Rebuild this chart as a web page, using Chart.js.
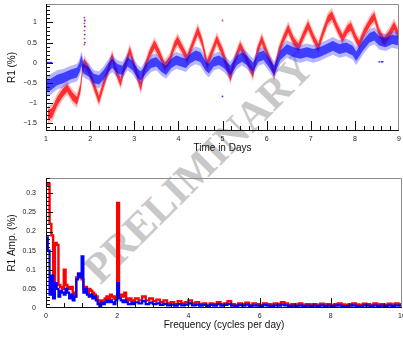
<!DOCTYPE html>
<html><head><meta charset="utf-8">
<script src="https://cdn.jsdelivr.net/npm/chart.js@4.4.1/dist/chart.umd.min.js"></script>
<style>
html,body{margin:0;padding:0;background:#fff;width:403px;height:343px;overflow:hidden}
#wm{position:absolute;left:198px;top:168px;transform:translate(-50%,-50%) rotate(-45deg);font:bold 42px "Liberation Serif";color:#c8c8c8;white-space:nowrap;z-index:0;line-height:1}
.box{position:absolute;left:0;z-index:1}
</style></head><body>
<div id="wm">PRELIMINARY</div>
<div class="box" style="top:0"><canvas id="c1" width="403" height="160"></canvas></div>
<div class="box" style="top:170px"><canvas id="c2" width="403" height="173"></canvas></div>
<script>
// ---------- top panel: R1 (%) vs time ----------
const redDays = [1.04,1.14,1.25,1.37,1.48,1.6,1.7,1.78,1.83,1.87,1.97,2.08,2.2,2.3,2.42,2.5,2.57,2.69,2.77,2.9,3.0,3.15,3.23,3.35,3.46,3.57,3.69,3.8,3.91,3.98,4.09,4.2,4.31,4.44,4.54,4.65,4.76,4.87,5.0,5.18,5.29,5.4,5.51,5.62,5.69,5.78,5.89,6.0,6.12,6.17,6.27,6.38,6.49,6.61,6.72,6.83,6.94,7.06,7.17,7.28,7.39,7.48,7.6,7.72,7.83,7.91,8.03,8.1,8.21,8.36,8.44,8.55,8.66,8.78,8.89,9.0];
const redR1 = [-1.3,-1.25,-0.97,-0.76,-0.63,-0.84,-0.95,-0.64,-0.15,0.0,-0.19,-0.55,-0.92,-0.55,-0.15,0.16,-0.15,-0.5,-0.15,0.3,-0.07,-0.6,-0.15,0.22,0.46,0.22,-0.1,0.06,0.42,0.56,0.34,0.1,0.42,0.8,0.5,-0.05,0.26,0.58,0.26,-0.35,0.1,0.42,0.18,-0.11,-0.28,0.26,0.58,0.26,-0.07,-0.27,0.26,0.58,0.85,0.54,0.38,0.67,0.93,0.62,0.38,0.75,1.08,1.18,0.87,0.6,0.83,0.9,0.58,0.46,0.75,1.04,1.15,0.75,0.54,0.71,0.92,0.67];
const redSpread = [0.22,0.22,0.2,0.18,0.17,0.18,0.18,0.18,0.18,0.18,0.17,0.17,0.18,0.17,0.17,0.17,0.17,0.17,0.17,0.18,0.17,0.19,0.17,0.17,0.18,0.17,0.17,0.17,0.17,0.18,0.17,0.17,0.17,0.19,0.17,0.2,0.17,0.18,0.18,0.2,0.17,0.17,0.17,0.17,0.18,0.17,0.18,0.17,0.17,0.18,0.17,0.17,0.18,0.17,0.17,0.17,0.18,0.17,0.17,0.17,0.18,0.18,0.17,0.17,0.17,0.18,0.17,0.17,0.17,0.18,0.18,0.17,0.17,0.17,0.18,0.17];

const blueDays = [1.02,1.1,1.25,1.4,1.55,1.7,1.76,1.8,1.85,1.97,2.08,2.2,2.3,2.42,2.5,2.62,2.73,2.85,2.96,3.08,3.15,3.27,3.38,3.5,3.61,3.72,3.84,3.95,4.06,4.17,4.27,4.39,4.5,4.61,4.69,4.8,4.92,5.03,5.18,5.33,5.44,5.55,5.69,5.82,5.93,6.04,6.17,6.31,6.46,6.61,6.76,6.91,7.06,7.2,7.35,7.5,7.65,7.8,7.95,8.03,8.18,8.33,8.44,8.55,8.7,8.85,9.0];
const blueR1 = [-0.58,-0.55,-0.43,-0.38,-0.3,-0.25,-0.12,0.05,-0.15,-0.23,-0.39,-0.43,-0.31,-0.11,-0.02,-0.15,-0.19,0.02,-0.07,-0.27,-0.33,-0.15,-0.02,0.02,-0.11,-0.19,-0.02,0.06,0.02,-0.02,0.1,0.18,0.14,-0.07,-0.15,0.02,0.06,-0.02,-0.19,0.06,0.14,0.06,-0.11,0.14,0.18,0.02,-0.19,0.18,0.34,0.26,0.22,0.26,0.22,0.26,0.34,0.42,0.34,0.38,0.3,0.16,0.42,0.62,0.67,0.54,0.5,0.58,0.54];
const blueSpread = [0.26,0.26,0.24,0.23,0.22,0.22,0.22,0.24,0.22,0.21,0.21,0.21,0.21,0.21,0.21,0.21,0.21,0.21,0.21,0.21,0.21,0.21,0.21,0.21,0.21,0.21,0.21,0.21,0.21,0.21,0.21,0.22,0.22,0.21,0.22,0.21,0.21,0.21,0.22,0.21,0.21,0.21,0.21,0.21,0.21,0.21,0.22,0.21,0.22,0.22,0.22,0.22,0.22,0.22,0.22,0.22,0.22,0.22,0.22,0.22,0.22,0.22,0.21,0.21,0.21,0.21,0.21];

// isolated dots (outliers)
const redOutDays = [1.87,1.87,1.87,1.87,1.87,5.0];
const redOutR1 = [1.12,0.98,0.8,0.6,0.45,1.05];
const blueOutDays = [1.01,1.04,1.07,1.1,1.13,1.88,1.88,1.88,1.88,5.0,8.55,8.6,8.63];
const blueOutR1 = [0,0,0,0,0,1.05,0.9,0.7,0.5,-0.84,0.02,0.02,0.02];

const timeTicks = [1,2,3,4,5,6,7,8,9];
const r1Ticks = [-1.5,-1,-0.5,0,0.5,1];
const r1TickLabels = ['\u22121.5','\u22121','\u22120.5','0','0.5','1'];

// ---------- bottom panel: amplitude spectrum ----------
// bins of 0.05 cycles/day from 0 to 2.5
const ampRedLow = [0.32,0.325,0.22,0.19,0.06,0.17,0.165,0.06,0.055,0.05,0.1,0.06,0.055,0.05,0.055,0.04,0.03,0.08,0.09,0.085,0.075,0.05,0.055,0.04,0.05,0.045,0.04,0.035,0.03,0.02,0.015,0.02,0.02,0.025,0.03,0.025,0.035,0.03,0.025,0.03,0.275,0.03,0.035,0.03,0.04,0.025,0.02,0.025,0.02,0.02];
const ampBlueLow = [0.185,0.15,0.035,0.085,0.025,0.065,0.05,0.03,0.045,0.04,0.035,0.05,0.04,0.025,0.035,0.02,0.03,0.075,0.09,0.08,0.135,0.04,0.05,0.035,0.03,0.035,0.025,0.03,0.02,0.01,0.005,0.015,0.01,0.015,0.02,0.015,0.02,0.015,0.01,0.02,0.065,0.025,0.02,0.015,0.02,0.015,0.01,0.01,0.015,0.01];
// bins of 0.1 cycles/day from 2.5 to 10
const ampRedHigh = [0.025,0.02,0.03,0.02,0.025,0.018,0.022,0.015,0.02,0.012,0.015,0.01,0.018,0.012,0.015,0.02,0.012,0.015,0.01,0.012,0.008,0.012,0.01,0.015,0.01,0.012,0.018,0.01,0.008,0.012,0.01,0.014,0.008,0.012,0.01,0.008,0.012,0.01,0.009,0.012,0.01,0.015,0.012,0.008,0.01,0.009,0.012,0.008,0.01,0.009,0.01,0.008,0.011,0.009,0.01,0.008,0.01,0.012,0.009,0.008,0.01,0.012,0.009,0.008,0.011,0.01,0.008,0.012,0.009,0.01,0.008,0.011,0.009,0.012,0.01];
const ampBlueHigh = [0.015,0.012,0.018,0.01,0.014,0.01,0.012,0.008,0.011,0.007,0.009,0.006,0.01,0.007,0.009,0.012,0.007,0.009,0.006,0.008,0.005,0.008,0.006,0.01,0.006,0.008,0.011,0.006,0.005,0.008,0.006,0.009,0.005,0.007,0.006,0.005,0.008,0.006,0.005,0.007,0.006,0.009,0.007,0.005,0.006,0.005,0.007,0.005,0.006,0.005,0.006,0.005,0.007,0.005,0.006,0.005,0.006,0.007,0.005,0.005,0.006,0.007,0.005,0.005,0.007,0.006,0.005,0.007,0.005,0.006,0.005,0.007,0.005,0.007,0.006];
const lowBin = 0.05, highBin = 0.1, lowEnd = 2.5;

const freqTicks = [0,2,4,6,8,10];
const ampTicks = [0,0.05,0.1,0.15,0.2,0.25,0.3];
const ampTickLabels = ['0','0.05','0.1','0.15','0.2','0.25','0.3'];

// ---------- helpers ----------
function band(xs, cs, ss, k, sign){ return xs.map((x,i)=>({x, y: cs[i] + sign*k*ss[i]})); }
function pts(xs, ys){ return xs.map((x,i)=>({x, y: ys[i]})); }
function hist(low, high){
  const d = [];
  low.forEach((v,i)=>d.push({x:i*lowBin, y:v}));
  high.forEach((v,i)=>d.push({x:lowEnd+i*highBin, y:v}));
  d.push({x:lowEnd+high.length*highBin, y:high[high.length-1]});
  return d;
}

const frameTicks = {
  id:'frameTicks',
  afterDraw(chart, args, o){
    const {ctx, chartArea:a, scales:{x,y}} = chart;
    ctx.save();
    ctx.lineWidth = 1;
    ctx.strokeStyle = '#8c8c8c';
    ctx.beginPath();
    ctx.moveTo(a.left, a.top+0.5); ctx.lineTo(a.right-0.5, a.top+0.5); ctx.lineTo(a.right-0.5, a.bottom);
    ctx.stroke();
    ctx.strokeStyle = '#111';
    ctx.beginPath();
    ctx.moveTo(a.left+0.5, a.top); ctx.lineTo(a.left+0.5, a.bottom-0.5); ctx.lineTo(a.right, a.bottom-0.5);
    ctx.stroke();
    ctx.beginPath();
    const nx = Math.round((o.xMax-o.xStart)/o.xMinor);
    for(let i=0;i<=nx;i++){
      const v = o.xStart + i*o.xMinor;
      const major = Math.abs(v/o.xMajor - Math.round(v/o.xMajor)) < 1e-6;
      const px = Math.round(x.getPixelForValue(v))+0.5;
      if(px < a.left || px > a.right) continue;
      ctx.moveTo(px, a.bottom); ctx.lineTo(px, a.bottom - (major? o.xMajLen : o.xMinLen));
    }
    const ny = Math.round((o.yMax-o.yStart)/o.yMinor);
    for(let i=0;i<=ny;i++){
      const v = o.yStart + i*o.yMinor;
      const major = Math.abs(v/o.yMajor - Math.round(v/o.yMajor)) < 1e-6;
      const py = Math.round(y.getPixelForValue(v))+0.5;
      if(py < a.top || py > a.bottom) continue;
      ctx.moveTo(a.left, py); ctx.lineTo(a.left + (major? o.yMajLen : o.yMinLen), py);
    }
    ctx.stroke();
    ctx.restore();
  }
};

const FONT = 'Liberation Sans';
function xScale(min, max, ticksArr, title, titlePad, h){
  return {
    type:'linear', min, max,
    afterBuildTicks: s => { s.ticks = ticksArr.map(v=>({value:v})); },
    ticks:{ font:{family:FONT,size:7}, color:'#222', padding:4, maxRotation:0, autoSkip:false },
    grid:{ display:false, drawTicks:false }, border:{ display:false },
    title:{ display:true, text:title, font:{family:FONT,size:10}, color:'#111', padding:{top:0,bottom:titlePad} },
    afterFit: s => { s.height = h; s.paddingLeft = 0; s.paddingRight = 0; }
  };
}
function yScale(min, max, ticksArr, labels, title, pad){
  return {
    type:'linear', min, max,
    afterBuildTicks: s => { s.ticks = ticksArr.map(v=>({value:v})); },
    ticks:{ font:{family:FONT,size:7}, color:'#222', padding:pad, autoSkip:false,
      callback: v => { const i = ticksArr.indexOf(v); return i>=0 ? labels[i] : ''; } },
    grid:{ display:false, drawTicks:false }, border:{ display:false },
    title:{ display:true, text:title, font:{family:FONT,size:10}, color:'#111', padding:{top:6,bottom:0} },
    afterFit: s => { s.width = 46; s.paddingTop = 0; s.paddingBottom = 0; }
  };
}

Chart.defaults.animation = false;
Chart.defaults.font.family = FONT;

const bandDS = (xs, cs, ss, k, color, order) => ([
  { data: band(xs,cs,ss,k,1), fill:'+1', backgroundColor:color, borderWidth:0, pointRadius:0, order },
  { data: band(xs,cs,ss,k,-1), fill:false, borderWidth:0, pointRadius:0, order }
]);

new Chart(document.getElementById('c1'), {
  type:'line',
  data:{ datasets:[
    ...bandDS(redDays, redR1, redSpread, 1.0, 'rgba(255,60,60,0.35)', 6),
    ...bandDS(redDays, redR1, redSpread, 0.55, 'rgba(255,0,0,0.75)', 5),
    ...bandDS(blueDays, blueR1, blueSpread, 1.0, 'rgba(50,50,255,0.35)', 4),
    ...bandDS(blueDays, blueR1, blueSpread, 0.55, 'rgba(0,0,255,0.65)', 3),
    { type:'scatter', data: pts(redOutDays, redOutR1), pointRadius:0.9, pointBorderWidth:0, backgroundColor:'rgba(255,0,0,0.8)', showLine:false, order:2 },
    { type:'scatter', data: pts(blueOutDays, blueOutR1), pointRadius:0.9, pointBorderWidth:0, backgroundColor:'rgba(0,0,255,0.8)', showLine:false, order:1 }
  ]},
  options:{
    responsive:false, events:[],
    layout:{ padding:{ top:1, right:1, left:0, bottom:0 } },
    plugins:{ legend:{display:false}, tooltip:{enabled:false}, filler:{propagate:false},
      frameTicks:{ xStart:1, xMax:9, xMinor:0.2, xMajor:1, xMajLen:10, xMinLen:5,
                   yStart:-1.7, yMax:1.46, yMinor:0.1, yMajor:0.5, yMajLen:7, yMinLen:4 } },
    elements:{ line:{ tension:0 } },
    scales:{
      x: xScale(1, 9, timeTicks, 'Time in Days', 6, 29),
      y: yScale(-1.7, 1.46, r1Ticks, r1TickLabels, 'R1 (%)', 9)
    }
  },
  plugins:[frameTicks]
});

new Chart(document.getElementById('c2'), {
  type:'line',
  data:{ datasets:[
    { data: hist(ampRedLow, ampRedHigh), stepped:'before', borderColor:'#ff0000', borderWidth:2.4, pointRadius:0, fill:false, order:2 },
    { data: hist(ampBlueLow, ampBlueHigh), stepped:'before', borderColor:'#0000ff', borderWidth:2.2, pointRadius:0, fill:false, order:1 }
  ]},
  options:{
    responsive:false, events:[],
    layout:{ padding:{ top:8, right:1, left:0, bottom:0 } },
    plugins:{ legend:{display:false}, tooltip:{enabled:false},
      frameTicks:{ xStart:0, xMax:10, xMinor:0.5, xMajor:2, xMajLen:10, xMinLen:5,
                   yStart:0, yMax:0.34, yMinor:0.01, yMajor:0.05, yMajLen:7, yMinLen:4 } },
    scales:{
      x: xScale(0, 10, freqTicks, 'Frequency (cycles per day)', 12, 35),
      y: yScale(0, 0.34, ampTicks, ampTickLabels, 'R1 Amp. (%)', 10)
    }
  },
  plugins:[frameTicks]
});
</script>
</body></html>
